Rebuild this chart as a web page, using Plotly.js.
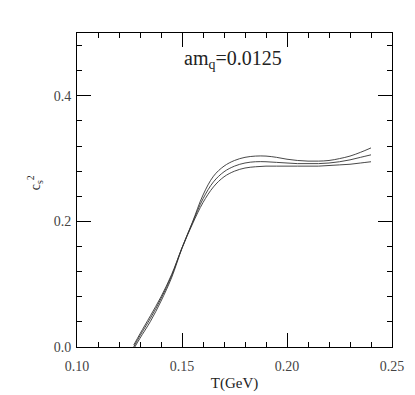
<!DOCTYPE html>
<html>
<head>
<meta charset="utf-8">
<script src="https://cdn.plot.ly/plotly-3.0.1.min.js"></script>
<style>
  html, body { margin: 0; padding: 0; background: #ffffff; }
  #chart { width: 415px; height: 395px; }
</style>
</head>
<body>
<div id="chart"></div>
<script>
// temperature grid (GeV)
const tGeV = [0.127, 0.13, 0.135, 0.14, 0.145, 0.15, 0.155, 0.16, 0.165, 0.17,
  0.175, 0.18, 0.185, 0.19, 0.195, 0.2, 0.205, 0.21, 0.215, 0.22,
  0.225, 0.23, 0.235, 0.24];

// speed of sound squared, three curves (upper / central / lower)
const cs2Upper = [0.003, 0.021, 0.05, 0.08, 0.115, 0.158, 0.199, 0.242, 0.272, 0.288,
  0.297, 0.302, 0.304, 0.304, 0.302, 0.299, 0.297, 0.296, 0.296, 0.297,
  0.3, 0.304, 0.31, 0.317];
const cs2Mid = [0.0, 0.018, 0.046, 0.077, 0.113, 0.158, 0.198, 0.236, 0.263, 0.279,
  0.288, 0.293, 0.295, 0.295, 0.294, 0.293, 0.292, 0.292, 0.292, 0.293,
  0.295, 0.298, 0.302, 0.306];
const cs2Lower = [-0.003, 0.014, 0.041, 0.073, 0.11, 0.157, 0.196, 0.23, 0.255, 0.271,
  0.28, 0.285, 0.287, 0.288, 0.288, 0.288, 0.288, 0.288, 0.288, 0.289,
  0.29, 0.291, 0.293, 0.295];

const FONT = "Liberation Serif";

function curve(y) {
  return {
    type: "scatter",
    mode: "lines",
    x: tGeV,
    y: y,
    line: { color: "#333333", width: 0.9, shape: "spline", smoothing: 1 },
    showlegend: false,
    hoverinfo: "skip",
  };
}

const traces = [curve(cs2Upper), curve(cs2Mid), curve(cs2Lower)];

const axisBase = {
  showgrid: false,
  zeroline: false,
  showline: true,
  linecolor: "#000000",
  linewidth: 1,
  mirror: "ticks",
  ticks: "inside",
  tickcolor: "#000000",
  tickwidth: 1,
  ticklen: 14,
  tickfont: { family: FONT, size: 14, color: "#444444" },
  fixedrange: true,
};

const layout = {
  width: 415,
  height: 395,
  margin: { l: 77, r: 23, t: 33, b: 48 },
  paper_bgcolor: "#ffffff",
  plot_bgcolor: "#ffffff",
  font: { family: FONT, color: "#222222" },
  showlegend: false,
  xaxis: Object.assign({}, axisBase, {
    range: [0.1, 0.25],
    tickvals: [0.1, 0.15, 0.2, 0.25],
    ticktext: ["0.10", "0.15", "0.20", "0.25"],
    ticklabelstandoff: 6,
    minor: { dtick: 0.01, ticks: "inside", ticklen: 5, tickcolor: "#000000", showgrid: false },
    title: { text: "T(GeV)", font: { family: FONT, size: 15, color: "#222222" }, standoff: 4 },
  }),
  yaxis: Object.assign({}, axisBase, {
    range: [0, 0.5],
    tickvals: [0, 0.2, 0.4],
    ticktext: ["0.0", "0.2", "0.4"],
    ticklabelstandoff: 2,
    minor: { dtick: 0.04, ticks: "inside", ticklen: 5, tickcolor: "#000000", showgrid: false },
  }),
  annotations: [
    {
      text: "am<sub>q</sub>=0.0125",
      xref: "paper",
      yref: "paper",
      x: 0.496,
      y: 0.915,
      xanchor: "center",
      yanchor: "middle",
      showarrow: false,
      font: { family: FONT, size: 20, color: "#222222" },
    },
    {
      text: "c<sub>s</sub><sup>2</sup>",
      xref: "paper",
      yref: "paper",
      x: -0.133,
      y: 0.522,
      xanchor: "center",
      yanchor: "middle",
      textangle: -90,
      showarrow: false,
      font: { family: FONT, size: 14, color: "#222222" },
    },
  ],
};

Plotly.newPlot("chart", traces, layout, { displayModeBar: false, staticPlot: true });
</script>
</body>
</html>
